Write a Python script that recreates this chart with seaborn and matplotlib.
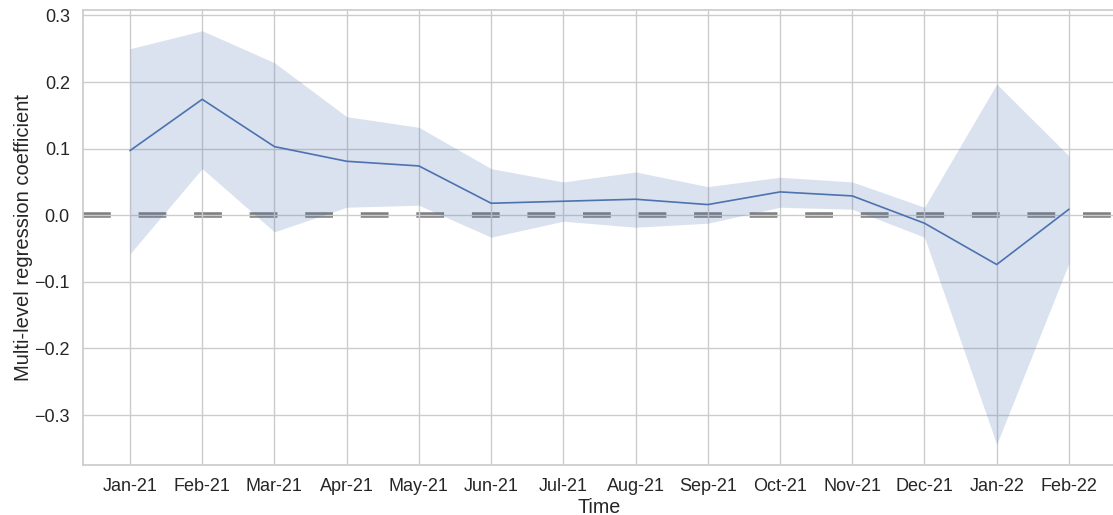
import pandas as pd
import numpy as np
import matplotlib
matplotlib.use("Agg")
import matplotlib.pyplot as plt
import seaborn as sns

## coefficient per month, with the interval around it

months = ["Jan-21", "Feb-21", "Mar-21", "Apr-21", "May-21", "Jun-21", "Jul-21",
          "Aug-21", "Sep-21", "Oct-21", "Nov-21", "Dec-21", "Jan-22", "Feb-22"]
coef = [0.097, 0.174, 0.103, 0.081, 0.074, 0.018, 0.021,
        0.024, 0.016, 0.035, 0.029, -0.012, -0.074, 0.009]
upper = [0.250, 0.277, 0.229, 0.148, 0.132, 0.070, 0.050,
         0.065, 0.043, 0.057, 0.050, 0.012, 0.197, 0.089]
lower = [-0.058, 0.070, -0.025, 0.012, 0.015, -0.033, -0.009,
         -0.018, -0.012, 0.012, 0.009, -0.033, -0.344, -0.072]

df = pd.DataFrame({"Time": months, "coef": coef, "upper": upper, "lower": lower})

sns.set_theme(style="whitegrid")
plt.rcParams["font.family"] = ["Liberation Sans", "DejaVu Sans"]

fig = plt.figure(figsize=(11.13, 5.15), dpi=100)
ax = fig.add_axes([0.0746, 0.097, 0.928, 0.8835])

color = sns.color_palette("deep")[0]
sns.lineplot(data=df, x="Time", y="coef", color=color, linewidth=1.2, ax=ax, sort=False)
ax.fill_between(np.arange(len(months)), df["lower"], df["upper"], color=color, alpha=0.2, linewidth=0)
# zero reference line, kept under the grid
ax.axhline(0, color="gray", linestyle=(0, (5, 5)), linewidth=4, zorder=0.4)

ax.set_xlabel("Time", fontsize=14.2, labelpad=2)
ax.set_ylabel("Multi-level regression coefficient", fontsize=14.5, labelpad=1)
ax.tick_params(axis="both", labelsize=13)
ax.set_yticks([-0.3, -0.2, -0.1, 0.0, 0.1, 0.2, 0.3])

fig.savefig("out.png", dpi=100)
